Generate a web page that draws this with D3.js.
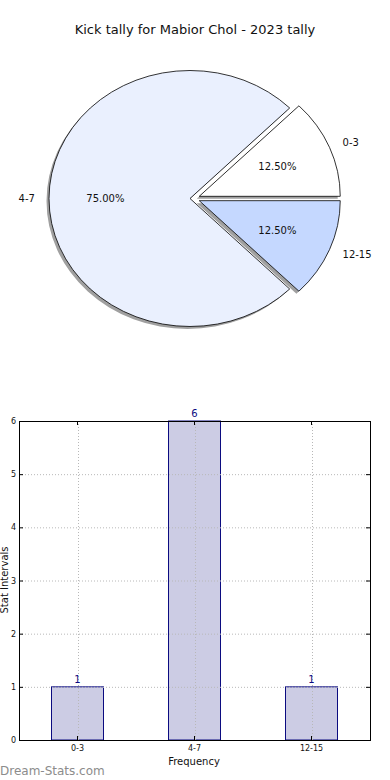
<!DOCTYPE html>
<html>
<head>
<meta charset="utf-8">
<style>
  body { margin: 0; background: #fff; }
  svg { display: block; font-family: "DejaVu Sans", sans-serif; }
</style>
<script src="https://cdn.jsdelivr.net/npm/d3@7"></script>
</head>
<body>
<svg width="390" height="780"></svg>
<script>
// data
var title = "Kick tally for Mabior Chol - 2023 tally";
var intervals = ["0-3", "4-7", "12-15"];
var counts = [1, 6, 1];
var sliceColors = ["#ffffff", "#eaf0fe", "#c5d8ff"];
var explode = [1, 0, 1];
var yTicks = [0, 1, 2, 3, 4, 5, 6];

var svg = d3.select("svg");

svg.append("text")
  .attr("x", 195).attr("y", 34)
  .attr("text-anchor", "middle")
  .attr("font-size", 13)
  .attr("fill", "#111")
  .text(title);

// ---- pie (elliptical, like the source) ----
var cx = 190, cy = 198.5, rx = 141, ry = 128;
var total = d3.sum(counts);

var pie = d3.pie().sort(null)
  .startAngle(Math.PI / 2)
  .endAngle(Math.PI / 2 - 2 * Math.PI);
var arcs = pie(counts);
var arc = d3.arc().innerRadius(0).outerRadius(100);

// mid angle in normal math orientation (ccw from +x)
function mid(d) {
  var a = (d.startAngle + d.endAngle) / 2;
  return Math.PI / 2 - a;
}
function off(d, i) {
  var m = mid(d);
  return [explode[i] * 10 * Math.cos(m), -explode[i] * 5.7 * Math.sin(m)];
}

var pieG = svg.append("g");

// shadows
pieG.selectAll("path.shadow")
  .data(arcs).enter().append("path")
  .attr("class", "shadow")
  .attr("d", arc)
  .attr("transform", function(d, i) {
    var o = off(d, i);
    return "translate(" + (cx + o[0] - 2.5) + "," + (cy + o[1] + 2.5) + ") scale(" + rx / 100 + "," + ry / 100 + ")";
  })
  .attr("fill", "#a0a0a0");

pieG.selectAll("path.slice")
  .data(arcs).enter().append("path")
  .attr("class", "slice")
  .attr("d", arc)
  .attr("transform", function(d, i) {
    var o = off(d, i);
    return "translate(" + (cx + o[0]) + "," + (cy + o[1]) + ") scale(" + rx / 100 + "," + ry / 100 + ")";
  })
  .attr("fill", function(d, i) { return sliceColors[i]; })
  .attr("stroke", "#000")
  .attr("stroke-width", 0.8)
  .attr("vector-effect", "non-scaling-stroke");

// category labels (labeldistance 1.1) and percents (pctdistance 0.6)
pieG.selectAll("text.lab")
  .data(arcs).enter().append("text")
  .attr("class", "lab")
  .attr("x", function(d, i) { return cx + off(d, i)[0] + 1.1 * rx * Math.cos(mid(d)); })
  .attr("y", function(d, i) { return cy + off(d, i)[1] - 1.1 * ry * Math.sin(mid(d)); })
  .attr("dy", "0.35em")
  .attr("text-anchor", function(d) { return Math.cos(mid(d)) > 0 ? "start" : "end"; })
  .attr("font-size", 10)
  .attr("fill", "#111")
  .text(function(d, i) { return intervals[i]; });

pieG.selectAll("text.pct")
  .data(arcs).enter().append("text")
  .attr("class", "pct")
  .attr("x", function(d, i) { return cx + off(d, i)[0] + 0.6 * rx * Math.cos(mid(d)); })
  .attr("y", function(d, i) { return cy + off(d, i)[1] - 0.6 * ry * Math.sin(mid(d)); })
  .attr("dy", "0.35em")
  .attr("text-anchor", "middle")
  .attr("font-size", 10)
  .attr("fill", "#111")
  .text(function(d) { return (d.value / total * 100).toFixed(2) + "%"; });

// ---- bar chart ----
var plotL = 19, plotR = 370, plotT = 421, plotB = 740;

var x = d3.scaleBand().domain(intervals).range([plotL, plotR]).paddingInner(0).paddingOuter(0);
var y = d3.scaleLinear().domain([0, 6]).range([plotB, plotT]);
var barW = 52;

var bars = svg.append("g");
bars.selectAll("rect")
  .data(counts).enter().append("rect")
  .attr("x", function(d, i) { return x(intervals[i]) + x.bandwidth() / 2 - barW / 2; })
  .attr("y", function(d) { return y(d); })
  .attr("width", barW)
  .attr("height", function(d) { return y(0) - y(d); })
  .attr("fill", "#ccccE4")
  .attr("stroke", "#0b0b80")
  .attr("stroke-width", 1);

// grid on top of bars
var grid = svg.append("g")
  .attr("stroke", "#b8b8b8")
  .attr("stroke-width", 1)
  .attr("stroke-dasharray", "1,2");
grid.selectAll("line.h")
  .data(yTicks).enter().append("line")
  .attr("x1", plotL).attr("x2", plotR)
  .attr("y1", function(d) { return y(d) + 0.5; })
  .attr("y2", function(d) { return y(d) + 0.5; });
grid.selectAll("line.v")
  .data(intervals).enter().append("line")
  .attr("x1", function(d) { return Math.round(x(d) + x.bandwidth() / 2) + 0.5; })
  .attr("x2", function(d) { return Math.round(x(d) + x.bandwidth() / 2) + 0.5; })
  .attr("y1", plotT).attr("y2", plotB);

// axes with inward ticks
svg.append("g")
  .attr("transform", "translate(" + plotL + ",0)")
  .call(d3.axisLeft(y).tickValues(yTicks).tickSize(-4).tickPadding(3).tickFormat(d3.format("d")))
  .call(function(g) {
    g.select(".domain").remove();
    g.selectAll("text").attr("font-size", 8).attr("fill", "#111").attr("font-family", "DejaVu Sans, sans-serif");
  });
svg.append("g")
  .attr("transform", "translate(" + plotR + ",0)")
  .call(d3.axisRight(y).tickValues(yTicks).tickSize(-4).tickFormat(""))
  .call(function(g) { g.select(".domain").remove(); });
svg.append("g")
  .attr("transform", "translate(0," + plotB + ")")
  .call(d3.axisBottom(x).tickSize(-4).tickPadding(5))
  .call(function(g) {
    g.select(".domain").remove();
    g.selectAll("text").attr("font-size", 8).attr("fill", "#111").attr("font-family", "DejaVu Sans, sans-serif");
  });
svg.append("g")
  .attr("transform", "translate(0," + plotT + ")")
  .call(d3.axisTop(x).tickSize(-4).tickFormat(""))
  .call(function(g) { g.select(".domain").remove(); });

svg.append("rect")
  .attr("x", plotL + 0.5).attr("y", plotT + 0.5)
  .attr("width", plotR - plotL).attr("height", plotB - plotT)
  .attr("fill", "none").attr("stroke", "#000").attr("stroke-width", 1);

// value labels
svg.append("g").selectAll("text")
  .data(counts).enter().append("text")
  .attr("x", function(d, i) { return x(intervals[i]) + x.bandwidth() / 2; })
  .attr("y", function(d) { return y(d) - 4; })
  .attr("text-anchor", "middle")
  .attr("font-size", 10)
  .attr("fill", "#0b0b80")
  .text(function(d) { return d; });

svg.append("text")
  .attr("x", 194).attr("y", 765)
  .attr("text-anchor", "middle")
  .attr("font-size", 10)
  .attr("fill", "#111")
  .text("Frequency");

svg.append("text")
  .attr("transform", "translate(7.5,580) rotate(-90)")
  .attr("text-anchor", "middle")
  .attr("font-size", 10)
  .attr("fill", "#111")
  .text("Stat Intervals");

svg.append("text")
  .attr("x", 0).attr("y", 775)
  .attr("font-size", 12)
  .attr("fill", "#8c8c8c")
  .text("Dream-Stats.com");
</script>
</body>
</html>
